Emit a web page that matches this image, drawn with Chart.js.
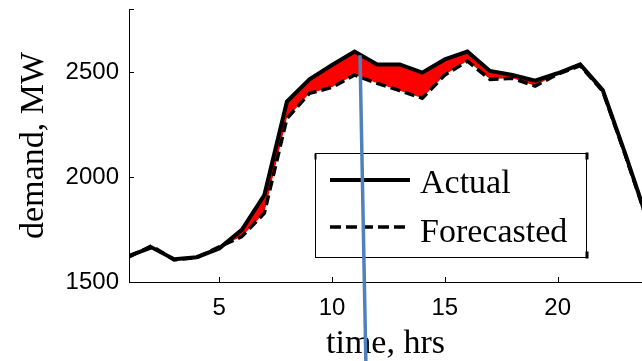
<!DOCTYPE html>
<html>
<head>
<meta charset="utf-8">
<script src="https://cdn.jsdelivr.net/npm/chart.js@4.4.1/dist/chart.umd.min.js"></script>
<style>
html, body { margin: 0; padding: 0; background: #fff; overflow: hidden; }
</style>
</head>
<body>
<canvas id="demandChart" width="642" height="361"></canvas>
<script>
const hours = [1, 2, 3, 4, 5, 6, 7, 8, 9, 10, 11, 12, 13, 14, 15, 16, 17, 18, 19, 20, 21, 22, 23, 24];
const actual = [1624, 1665, 1608, 1618, 1660, 1748, 1914, 2359, 2465, 2533, 2597, 2536, 2536, 2497, 2560, 2597, 2505, 2486, 2459, 2494, 2536, 2414, 2110, 1790];
const forecasted = [1620, 1672, 1605, 1616, 1668, 1716, 1828, 2279, 2398, 2427, 2486, 2446, 2411, 2375, 2486, 2552, 2465, 2470, 2433, 2490, 2530, 2408, 2104, 1784];
const xTicks = [5, 10, 15, 20];
const yTicks = [1500, 2000, 2500];
const legendLabels = ['Actual', 'Forecasted'];
// blue marker line (hour, MW) at its top end, hour where it leaves the page
const markerTop = [11.24, 2580];
const markerBottomHour = 11.5;

const serif = '"Liberation Serif", "Times New Roman", serif';
const sans = '"Liberation Sans", Arial, sans-serif';

const overlay = {
    id: 'overlay',
    afterDraw(chart) {
        const { ctx, chartArea: a, scales: { x, y } } = chart;
        ctx.save();
        ctx.strokeStyle = '#000';
        ctx.lineWidth = 1;

        // MATLAB style inward ticks
        xTicks.forEach(v => {
            const px = Math.round(x.getPixelForValue(v)) + 0.5;
            ctx.beginPath();
            ctx.moveTo(px, a.bottom);
            ctx.lineTo(px, a.bottom - 5);
            ctx.stroke();
        });
        yTicks.concat([y.max]).forEach(v => {
            const py = Math.round(y.getPixelForValue(v)) + 0.5;
            ctx.beginPath();
            ctx.moveTo(a.left, py);
            ctx.lineTo(a.left + 5, py);
            ctx.stroke();
        });

        // legend box
        const bx = 315.5, by = 153.5, bw = 271, bh = 104;
        ctx.fillStyle = '#fff';
        ctx.fillRect(bx, by, bw, bh);
        ctx.strokeRect(bx, by, bw, bh);
        ctx.fillStyle = '#000';
        ctx.fillRect(bx - 1, by, 2, 6);
        ctx.fillRect(bx + bw - 1, by - 1, 3, 7);
        ctx.fillRect(bx + bw - 1, by + bh - 6, 3, 7);

        ctx.lineWidth = 4;
        ctx.beginPath();
        ctx.moveTo(330, 180);
        ctx.lineTo(410, 180);
        ctx.stroke();
        ctx.lineWidth = 3.5;
        ctx.setLineDash([11, 5]);
        ctx.beginPath();
        ctx.moveTo(330, 227);
        ctx.lineTo(410, 227);
        ctx.stroke();
        ctx.setLineDash([]);

        ctx.font = '34px ' + serif;
        ctx.textAlign = 'left';
        ctx.textBaseline = 'alphabetic';
        ctx.fillText(legendLabels[0], 420, 193);
        ctx.fillText(legendLabels[1], 420, 242);

        // blue marker line
        ctx.strokeStyle = '#4F81BD';
        ctx.lineWidth = 3.5;
        ctx.beginPath();
        ctx.moveTo(x.getPixelForValue(markerTop[0]), y.getPixelForValue(markerTop[1]));
        ctx.lineTo(x.getPixelForValue(markerBottomHour), chart.height);
        ctx.stroke();
        ctx.restore();
    }
};

const ctx = document.getElementById('demandChart').getContext('2d');
const demandChart = new Chart(ctx, {
    type: 'line',
    data: {
        datasets: [{
            label: legendLabels[0],
            data: hours.map((h, i) => ({ x: h, y: actual[i] })),
            borderColor: '#000',
            borderWidth: 4,
            pointRadius: 0,
            tension: 0,
            fill: { target: 1, above: '#FF0000', below: '#00DD00' }
        }, {
            label: legendLabels[1],
            data: hours.map((h, i) => ({ x: h, y: forecasted[i] })),
            borderColor: '#000',
            borderWidth: 3.5,
            borderDash: [10, 5],
            pointRadius: 0,
            tension: 0,
            fill: false
        }]
    },
    options: {
        responsive: false,
        animation: false,
        layout: { padding: { top: 9, right: 0, left: 0, bottom: 0 } },
        plugins: {
            legend: { display: false },
            tooltip: { enabled: false },
            filler: { drawTime: 'beforeDatasetsDraw' }
        },
        scales: {
            x: {
                type: 'linear',
                min: 1,
                max: 23.74,
                grid: { display: false, drawTicks: false },
                border: { display: true, color: '#000', width: 1 },
                afterBuildTicks: s => { s.ticks = xTicks.map(v => ({ value: v })); },
                afterFit: s => { s.height = 79; s.paddingLeft = 0; s.paddingRight = 0; },
                ticks: { autoSkip: false, maxRotation: 0, padding: 12, color: '#000', font: { family: sans, size: 24 }, callback: v => String(v) },
                title: { display: true, text: 'time, hrs', color: '#000', padding: { top: 0, bottom: -3 }, font: { family: serif, size: 34 } }
            },
            y: {
                min: 1500,
                max: 2800,
                grid: { display: false, drawTicks: false },
                border: { display: true, color: '#000', width: 1 },
                afterBuildTicks: s => { s.ticks = yTicks.map(v => ({ value: v })); },
                afterFit: s => { s.width = 129; s.paddingTop = 0; s.paddingBottom = 0; },
                ticks: { autoSkip: false, padding: 10, color: '#000', font: { family: sans, size: 24 }, callback: v => String(v) },
                title: { display: true, text: 'demand, MW', color: '#000', padding: { top: 14, bottom: 0 }, font: { family: serif, size: 34 } }
            }
        }
    },
    plugins: [overlay]
});
</script>
</body>
</html>
